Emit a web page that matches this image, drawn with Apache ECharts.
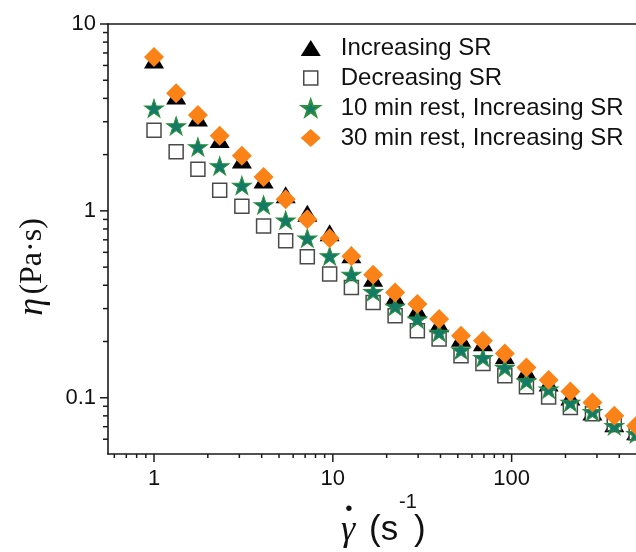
<!DOCTYPE html>
<html><head><meta charset="utf-8">
<script src="https://cdn.jsdelivr.net/npm/echarts@6/dist/echarts.min.js"></script>
<style>html,body{margin:0;padding:0;background:#fff}#c{width:636px;height:552px}</style>
</head><body><div id="c"></div>
<script>
// ---- data ----
const shearRate = [1, 1.33, 1.76, 2.33, 3.1, 4.1, 5.45, 7.2, 9.6, 12.7, 16.8, 22.3, 29.7, 39.3, 52.1, 69.1, 91.6, 121, 161, 213, 283, 375, 497];
const increasingSR = [6.42, 4.12, 3.14, 2.41, 1.87, 1.465, 1.22, 0.97, 0.763, 0.582, 0.436, 0.347, 0.296, 0.249, 0.208, 0.197, 0.168, 0.139, 0.120, 0.101, 0.084, 0.0726, 0.0658];
const decreasingSR = [2.70, 2.075, 1.67, 1.29, 1.057, 0.831, 0.691, 0.568, 0.460, 0.389, 0.323, 0.2745, 0.228, 0.206, 0.168, 0.1526, 0.131, 0.1145, 0.101, 0.0887, 0.0821, 0.0726, 0.065];
const rest10 = [3.54, 2.85, 2.20, 1.74, 1.369, 1.077, 0.892, 0.7145, 0.574, 0.457, 0.369, 0.3085, 0.2635, 0.2235, 0.180, 0.164, 0.145, 0.123, 0.111, 0.0944, 0.0842, 0.0708, 0.0642];
const rest30 = [6.66, 4.26, 3.26, 2.52, 1.97, 1.52, 1.155, 0.903, 0.713, 0.571, 0.455, 0.366, 0.317, 0.2635, 0.2146, 0.2017, 0.1725, 0.1452, 0.1243, 0.1081, 0.0944, 0.0801, 0.0708];
const seriesNames = ['Increasing SR', 'Decreasing SR', '10 min rest, Increasing SR', '30 min rest, Increasing SR'];

const xMajorTicks = [1, 10, 100];
const xTickLabels = ['1', '10', '100'];
const xMinorTicks = [0.6, 0.7, 0.8, 0.9, 2, 3, 4, 5, 6, 7, 8, 9, 20, 30, 40, 50, 60, 70, 80, 90, 200, 300, 400];
const yMajorTicks = [0.1, 1, 10];
const yTickLabels = ['0.1', '1', '10'];
const yMinorTicks = [0.06, 0.07, 0.08, 0.09, 0.2, 0.3, 0.4, 0.5, 0.6, 0.7, 0.8, 0.9, 2, 3, 4, 5, 6, 7, 8, 9];

const X_MIN = 0.553, X_MAX = 496, Y_MIN = 0.05, Y_MAX = 10;
const AXIS_COLOR = '#1a1a1a';
const SANS = '"Liberation Sans", Arial, Helvetica, sans-serif';
const SERIF = '"Liberation Serif", "Times New Roman", serif';
const STAR = 'path://M50,0 L61.8,35.1 L98.9,35.1 L68.9,57.3 L80.3,92.7 L50,70.8 L19.7,92.7 L31.1,57.3 L1.1,35.1 L38.2,35.1 Z';

function pairs(ys) { return shearRate.map((x, i) => [x, ys[i]]); }

function xTicks(ticks, len, labels) {
  return {
    type: 'custom', silent: true, clip: false, z: 5,
    data: ticks.map(v => [v, Y_MIN]),
    renderItem(params, api) {
      const p = api.coord([api.value(0), api.value(1)]);
      const ch = [{ type: 'line', shape: { x1: p[0], y1: p[1], x2: p[0], y2: p[1] + len }, style: { stroke: AXIS_COLOR, lineWidth: 1.5 } }];
      if (labels) ch.push({ type: 'text', style: { text: labels[params.dataIndex], x: p[0], y: p[1] + 14, align: 'center', verticalAlign: 'top', font: '22px ' + SANS, fill: '#111' } });
      return { type: 'group', children: ch };
    }
  };
}
function yTicks(ticks, len, labels) {
  return {
    type: 'custom', silent: true, clip: false, z: 5,
    data: ticks.map(v => [X_MIN, v]),
    renderItem(params, api) {
      const p = api.coord([api.value(0), api.value(1)]);
      const ch = [{ type: 'line', shape: { x1: p[0] - len, y1: p[1], x2: p[0], y2: p[1] }, style: { stroke: AXIS_COLOR, lineWidth: 1.5 } }];
      if (labels) ch.push({ type: 'text', style: { text: labels[params.dataIndex], x: p[0] - 12, y: p[1], align: 'right', verticalAlign: 'middle', font: '22px ' + SANS, fill: '#111' } });
      return { type: 'group', children: ch };
    }
  };
}

const chart = echarts.init(document.getElementById('c'), null, { renderer: 'canvas' });
chart.setOption({
  animation: false,
  backgroundColor: '#fff',
  grid: { left: 108, right: 0, top: 24, bottom: 98, containLabel: false, outerBoundsMode: 'none' },
  xAxis: [
    { type: 'log', min: X_MIN, max: X_MAX, position: 'bottom',
      axisLine: { show: true, lineStyle: { color: AXIS_COLOR, width: 1.6 } },
      axisTick: { show: false }, axisLabel: { show: false }, splitLine: { show: false } },
    { type: 'log', min: X_MIN, max: X_MAX, position: 'top',
      axisLine: { show: true, lineStyle: { color: AXIS_COLOR, width: 1.6 } },
      axisTick: { show: false }, axisLabel: { show: false }, splitLine: { show: false } }
  ],
  yAxis: {
    type: 'log', min: Y_MIN, max: Y_MAX,
    axisLine: { show: true, lineStyle: { color: AXIS_COLOR, width: 1.6 } },
    axisTick: { show: false }, axisLabel: { show: false }, splitLine: { show: false }
  },
  legend: {
    orient: 'vertical', left: 295, top: 31, itemWidth: 20, itemHeight: 18, itemGap: 6,
    selectedMode: false,
    textStyle: { fontSize: 24, fontFamily: SANS, color: '#111', lineHeight: 24, padding: [0, 0, 0, 15] },
    data: [
      { name: seriesNames[0], icon: 'path://M10,1 L20,17 L0,17 Z' },
      { name: seriesNames[1], icon: 'path://M0,0 M3,2 L17,2 L17,16 L3,16 Z M20,18',
        itemStyle: { color: '#fff', borderColor: '#4a4a4a', borderWidth: 1.5 } },
      { name: seriesNames[2], icon: 'path://M0,0 M50,4 L61.8,39.1 L98.9,39.1 L68.9,61.3 L80.3,96.7 L50,74.8 L19.7,96.7 L31.1,61.3 L1.1,39.1 L38.2,39.1 Z M100,100' },
      { name: seriesNames[3], icon: 'diamond' }
    ]
  },
  graphic: [
    { type: 'text', x: 33, y: 267, rotation: Math.PI / 2, z: 10,
      style: { text: '{e|η} {p|(Pa·s)}', align: 'center', verticalAlign: 'middle', fill: '#111',
        rich: { e: { fontFamily: SERIF, fontStyle: 'italic', fontSize: 36, fill: '#111' },
                p: { fontFamily: SERIF, fontSize: 32, fill: '#111' } } } },
    { type: 'text', x: 348, y: 531, z: 10,
      style: { text: 'γ', font: 'italic 36px ' + SERIF, align: 'center', verticalAlign: 'middle', fill: '#111' } },
    { type: 'text', x: 349, y: 510, z: 10,
      style: { text: '·', font: 'bold 34px ' + SERIF, align: 'center', verticalAlign: 'middle', fill: '#111' } },
    { type: 'text', x: 369, y: 530, z: 10,
      style: { text: '(s', font: '35px ' + SANS, align: 'left', verticalAlign: 'middle', fill: '#111' } },
    { type: 'text', x: 399, y: 502, z: 10,
      style: { text: '-1', font: '20px ' + SANS, align: 'left', verticalAlign: 'middle', fill: '#111' } },
    { type: 'text', x: 414, y: 530, z: 10,
      style: { text: ')', font: '35px ' + SANS, align: 'left', verticalAlign: 'middle', fill: '#111' } }
  ],
  series: [
    { name: seriesNames[0], type: 'scatter', clip: false, data: pairs(increasingSR),
      symbol: 'triangle', symbolSize: [20, 17], itemStyle: { color: '#000', opacity: 1 } },
    { name: seriesNames[1], type: 'scatter', clip: false, data: pairs(decreasingSR),
      symbol: 'rect', symbolSize: [14, 14], itemStyle: { color: '#fff', borderColor: '#4a4a4a', borderWidth: 1.5, opacity: 1 } },
    { name: seriesNames[2], type: 'scatter', clip: false, data: pairs(rest10),
      symbol: STAR, symbolSize: [19, 18], itemStyle: { color: '#127a66', borderColor: '#2e9040', borderWidth: 1, opacity: 1 } },
    { name: seriesNames[3], type: 'scatter', clip: false, data: pairs(rest30),
      symbol: 'diamond', symbolSize: [20, 20], itemStyle: { color: '#fb8216', opacity: 1 } },
    xTicks(xMajorTicks, 8, xTickLabels),
    xTicks(xMinorTicks, 4, null),
    yTicks(yMajorTicks, 8, yTickLabels),
    yTicks(yMinorTicks, 5, null)
  ]
});
</script></body></html>
